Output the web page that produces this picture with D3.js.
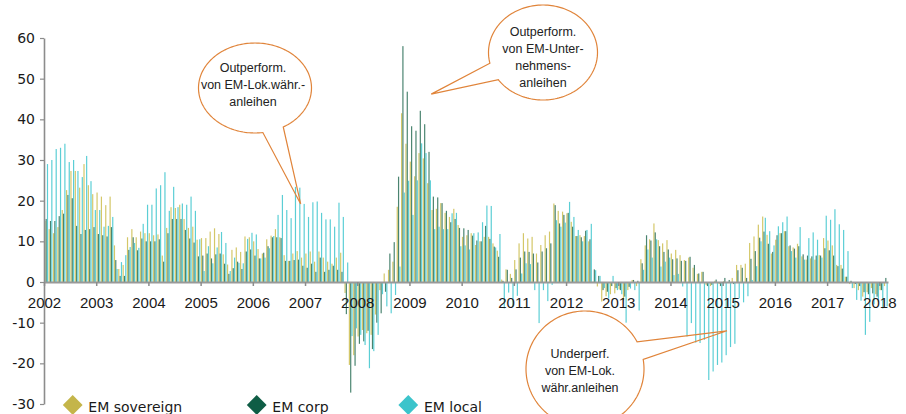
<!DOCTYPE html>
<html>
<head>
<meta charset="utf-8">
<script src="https://cdn.jsdelivr.net/npm/d3@7"></script>
<style>
  body { margin: 0; background: #fff; }
  svg { display: block; }
</style>
</head>
<body>
<div id="viz"></div>
<script>
// year labels under the axis, one every 12 months
var years = ['2002', '2003', '2004', '2005', '2006', '2007', '2008', '2009', '2010',
             '2011', '2012', '2013', '2014', '2015', '2016', '2017', '2018'];
var yTicks = [-30, -20, -10, 0, 10, 20, 30, 40, 50, 60];
var seriesNames = ['EM sovereign', 'EM corp', 'EM local'];

// monthly values, Jan 2002 .. Feb 2018 (one row per year)
var sovereign = [
  15, 13, 12, 13.5, 17.7, 22.6, 27.3, 27.3, 23.2, 29, 23.8, 21.6,
  22, 21, 18.9, 21, 9, 3.2, 4.2, 11, 13, 11, 12.4, 12,
  12, 11.5, 11.7, 6.5, 13.3, 18.4, 18.2, 19, 15.5, 13.3, 13.6, 10.4,
  10.8, 10.8, 12.4, 13.2, 11.8, 6.8, 4.3, 7.9, 8.5, 7.4, 11.2, 11,
  10, 8.1, 7, 10.5, 11.4, 13, 11, 6.6, 5.2, 7, 7.6, 6,
  7, 7.5, 5, 7.5, 6, 5, 4.5, 6, 7.2, -2.7, -20.4, -18,
  -13.4, -11.8, -12.6, -13, -8, -2, 2.1, 3, 5, 18.5, 41.5, 34,
  29.6, 26, 31.7, 30.4, 24.3, 17.7, 18, 19.4, 17, 16, 18, 14,
  11.1, 11.5, 12, 9.1, 10, 11.1, 11.1, 9.5, 7.7, 0.6, 3.1, 2,
  5.4, 9.5, 12, 10.7, 11.1, 7, 9.1, 11.5, 12.4, 19.3, 17.5, 17.3,
  16.9, 14.8, 11.3, 11.5, 11.3, 10, 0.1, -1.1, -4.8, -3.5, -3, -2.8,
  -1.8, -4.5, -2, 0.5, -1, 5.6, 9, 10.5, 14.4, 10.3, 9.5, 10.3,
  7, 7.9, 6.6, 5.4, 6, 3.5, 2, 2.5, -0.7, -1, 0.3, -0.5,
  0.2, 0, 1, 4.2, 4.2, 4.5, 9.6, 11.2, 14.1, 16.1, 11.6, 7,
  10.4, 12, 12.5, 8.8, 8.5, 9.4, 6.3, 5.5, 5.8, 5.5, 6.6, 10.8,
  10.2, 9, 4.2, 4.2, 1.3, -0.5, -1.5, -2, -3.6, -2.5, -1.5, -3,
  -2, -1
];
var corp = [
  15.5, 15, 15, 16.2, 16.8, 21.4, 20.6, 13.8, 11.8, 12.8, 13, 13.5,
  11.8, 11.5, 11.2, 13.5, 5.4, 1.5, 1.5, 7.9, 11, 7.8, 10.7, 10,
  10, 10, 10.5, 5, 12, 15.5, 15.5, 15.5, 12.8, 10.7, 9.7, 6.3,
  6.5, 7, 5.8, 6.8, 7, 4.5, 2, 3.4, 5, 3.2, 7.5, 8,
  6.5, 5.8, 7.2, 8.8, 11, 11, 10.8, 5.2, 5.2, 5.4, 5.5, 4,
  3.5, 4.5, 2.5, 6, 2.5, 3, 4, 3, 2.5, -7.9, -27.2, -20.6,
  -15.2, -14.6, -12, -16.5, -10, -7.7, -2.4, 7, 9.8, 25.9, 58, 46.8,
  38.3, 37.2, 42.1, 38.8, 32, 21, 20.8, 19.4, 17.5, 14.7, 15.5, 13.3,
  13.2, 12.8, 11.4, 10.2, 10, 13.8, 10.6, 8.7, 6.2, 0.3, 3, 1,
  3.1, 6, 7.5, 7.4, 7, 4.8, 7.5, 8.3, 9.5, 18.9, 14.4, 16.5,
  17, 13.6, 11.3, 11, 12.6, 10.5, 3.1, 1.5, -2, -2.4, -1, -1.5,
  -2, -3.6, -1.2, 0.5, 0.3, 4.6, 11.5, 10.2, 12.2, 8.8, 7.4, 8,
  5.6, 5.8, 5.2, 5.2, 6.2, 4.2, 2.1, 2.5, -1, -0.7, 0.6, -1,
  1, 0.5, -0.5, 2.9, 3.5, 1, 5.7, 7.6, 10.9, 12.4, 9.4, 7.4,
  11.5, 12, 12.5, 9, 8.2, 8.8, 6.8, 6.5, 6.3, 6.5, 6.5, 8.3,
  7.8, 6.5, 3.9, 3.3, 1.3, 0.3, -0.5, -1, -2.5, -3, -2.8, -3.6,
  -2, 1
];
var local = [
  29, 30, 32.7, 33, 34, 29.5, 30, 27.3, 25.8, 31, 24.8, 17.7,
  17.7, 13.6, 13.8, 16, 3.2, 4.9, 6.6, 8.6, 9.6, 8.4, 14.3, 19,
  19, 23, 23.8, 27, 17.5, 23.4, 18.4, 19.3, 19, 21, 17.5, 10.5,
  2.7, 8.8, 4.6, 8.5, 12.3, 9.6, 2.7, 6, 4.7, 4.6, 10.6, 12.1,
  11.7, 5.8, 6, 8.3, 11.3, 16.5, 21.4, 17.7, 15.7, 23.4, 23.2, 19.2,
  16, 19.6, 19.8, 17, 15.4, 15.4, 13.6, 19.5, 16, 4.8, -13.3, -11.4,
  -13, -15.5, -21.2, -17, -13, -3, -6, -7.7, -3.2, 3.8, 22, 24.9,
  16.5, 25, 34.1, 31.7, 25, 13, 13.6, 13, 13, 16.9, 17, 8.8,
  9, 8, 12, 12.2, 14.7, 18.8, 18.7, 8.5, 11.8, -6.5, -2.6, -6,
  -3.4, 2.1, 4.6, 4.4, -2, -10.1, -2, -4.7, -0.7, 15.2, 13.6, 14.6,
  19.7, 16, 12.8, 10, 12.8, 14.3, 2.9, 1.5, -1.5, -4, 1.5, -2,
  -3, -10, -1.6, -2, -7, 3, 8, 6, 10.5, 3.8, 5, 6,
  1.7, 2, -1.1, -13.4, -10.1, -14.9, -15, -14.2, -24.1, -22, -20.4, -19.8,
  -18, -16, -15.2, -4, -5, -3.5, 0.5, 3.9, 10, 15.8, 12.5, 9,
  13.7, 14.7, 16.1, 7.6, 6, 13.5, 5.5, 10.8, 12.2, 10.4, 6, 16.3,
  15.3, 17.9, 14.2, 12.8, 7.6, -1.5, -4.4, -4.6, -13, -9.8, -5.5, -4.8,
  -6.5, -6
];

// callout texts and where they point (month index, value)
var calloutTexts = [
  ['Outperform.', 'von EM-Lok.währ.-', 'anleihen'],
  ['Outperform.', 'von EM-Unter-', 'nehmens-', 'anleihen'],
  ['Underperf.', 'von EM-Lok.', 'währ.anleihen']
];
var calloutTips = [[59, 19.2], [89, 46.2], [157, -12]];

var colors = ['#C4B54A', '#0F5D45', '#3CC4CB'];
var barColors = ['#CDBD4E', '#2A6E57', '#3EC6CE'];
var calloutColor = '#E0843A';

var W = 906, H = 414;
var svg = d3.select('#viz').append('svg')
    .attr('width', W)
    .attr('height', H);

var months = d3.range(sovereign.length);
var x = d3.scaleBand().domain(months).range([44, 888]);
var xs = d3.scaleBand().domain([0, 1, 2]).range([0, x.bandwidth()])
    .paddingInner(0.1).paddingOuter(0.2);
var y = d3.scaleLinear().domain([-30, 60]).range([404, 38]);

var series = [sovereign, corp, local];

// bars
series.forEach(function(values, s) {
  svg.append('g').selectAll('rect')
    .data(values)
    .enter().append('rect')
    .attr('x', function(d, i) { return x(i) + xs(s); })
    .attr('y', function(d) { return y(Math.max(0, d)); })
    .attr('width', xs.bandwidth())
    .attr('height', function(d) { return Math.abs(y(d) - y(0)); })
    .attr('fill', barColors[s])
    .attr('fill-opacity', 0.85);
});

// y axis
var yAxis = svg.append('g')
    .attr('transform', 'translate(44,0)')
    .call(d3.axisLeft(y).tickValues(yTicks)
      .tickFormat(function(d) { return String(d); })
      .tickSize(4).tickSizeOuter(0).tickPadding(5));
yAxis.select('.domain').attr('stroke', '#8c8c8c').attr('stroke-width', 1.6);
yAxis.selectAll('.tick line').attr('stroke', '#8c8c8c').attr('stroke-width', 1.2);
yAxis.selectAll('text')
    .attr('font-family', 'DejaVu Sans, sans-serif')
    .attr('font-size', 14)
    .attr('fill', '#1a1a1a');

// x axis on the zero line
var xYear = d3.scaleLinear().domain([0, months.length]).range(x.range());
var xAxis = svg.append('g')
    .attr('transform', 'translate(0,' + y(0) + ')')
    .call(d3.axisBottom(xYear)
      .tickValues(d3.range(0, months.length, 12))
      .tickFormat(function(d, i) { return years[i]; })
      .tickSize(4).tickSizeOuter(0));
xAxis.select('.domain').attr('stroke', '#999').attr('stroke-width', 2);
xAxis.selectAll('.tick line').attr('stroke', '#8c8c8c').attr('stroke-width', 1.5);
xAxis.selectAll('text')
    .attr('y', 26).attr('dy', 0)
    .attr('font-family', 'Liberation Sans Narrow, Liberation Sans, sans-serif')
    .attr('font-size', 15)
    .attr('fill', '#1a1a1a');

// callouts: ellipse with a pointer
var shapes = [
  {cx: 255, cy: 88, rx: 56.5, ry: 45, a1: 60, a2: 82, tx: 253, ty: 72},
  {cx: 543, cy: 52.5, rx: 54.5, ry: 47.5, a1: 145, a2: 167, tx: 543, ty: 36},
  {cx: 585, cy: 369, rx: 59, ry: 58, a1: -28, a2: -9.5, tx: 580, ty: 357.5}
];
var line = d3.line();
shapes.forEach(function(c, k) {
  var tip = [x(calloutTips[k][0]), y(calloutTips[k][1])];
  var pts = [tip];
  for (var a = c.a2; a <= c.a1 + 360; a += 2) {
    var r = a * Math.PI / 180;
    pts.push([c.cx + c.rx * Math.cos(r), c.cy + c.ry * Math.sin(r)]);
  }
  var r1 = c.a1 * Math.PI / 180;
  pts.push([c.cx + c.rx * Math.cos(r1), c.cy + c.ry * Math.sin(r1)]);
  pts.push(tip);

  svg.append('ellipse')
    .attr('cx', c.cx).attr('cy', c.cy)
    .attr('rx', c.rx).attr('ry', c.ry)
    .attr('fill', 'white');
  svg.append('path')
    .attr('d', line(pts))
    .attr('fill', 'none')
    .attr('stroke', calloutColor)
    .attr('stroke-width', 1.2);

  svg.append('g').selectAll('text')
    .data(calloutTexts[k])
    .enter().append('text')
    .attr('x', c.tx)
    .attr('y', function(d, i) { return c.ty + i * 17; })
    .attr('text-anchor', 'middle')
    .attr('font-family', 'Liberation Sans, Arial, sans-serif')
    .attr('font-size', 12.5)
    .attr('fill', '#222')
    .text(function(d) { return d; });
});

// legend
var legendX = [72.7, 256.7, 408.3];
seriesNames.forEach(function(name, s) {
  svg.append('rect')
    .attr('x', -7).attr('y', -7)
    .attr('width', 14).attr('height', 14)
    .attr('transform', 'translate(' + legendX[s] + ',405) rotate(45)')
    .attr('fill', colors[s]);
  svg.append('text')
    .attr('x', legendX[s] + 15.6)
    .attr('y', 411.7)
    .attr('font-family', 'DejaVu Sans, sans-serif')
    .attr('font-size', 14)
    .attr('fill', '#1a1a1a')
    .text(name);
});
</script>
</body>
</html>
